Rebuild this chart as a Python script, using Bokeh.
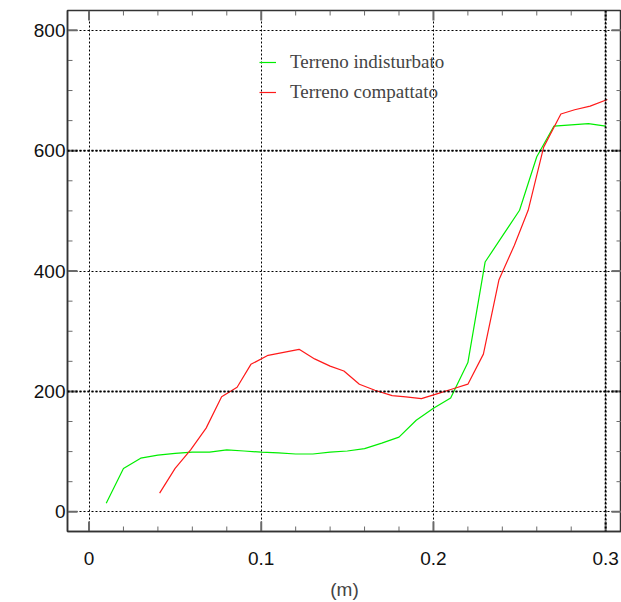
from bokeh.plotting import figure
from bokeh.models import (Range1d, LinearAxis, Legend, LegendItem, Label, Span, FixedTicker,
                          CustomJSTickFormatter)
from bokeh.embed import file_html
from bokeh.resources import INLINE

# Terreno indisturbato (green)
x_ind = [0.01, 0.02, 0.03, 0.04, 0.05, 0.06, 0.07, 0.08, 0.09, 0.10, 0.11, 0.12, 0.13, 0.14, 0.15,
         0.16, 0.17, 0.18, 0.19, 0.20, 0.21, 0.22, 0.23, 0.24, 0.25, 0.26, 0.27, 0.28, 0.29, 0.30]
y_ind = [14, 72, 89, 94, 97, 99, 99, 103, 101, 99, 98, 96, 96, 99, 101,
         105, 114, 124, 152, 172, 189, 248, 415, 458, 501, 590, 641, 643, 645, 641]

# Terreno compattato (red)
x_comp = [0.041, 0.050, 0.059, 0.068, 0.077, 0.086, 0.094, 0.104, 0.113, 0.122, 0.131, 0.140, 0.148,
          0.157, 0.166, 0.176, 0.184, 0.193, 0.202, 0.211, 0.220, 0.229, 0.238, 0.247, 0.255, 0.264,
          0.274, 0.282, 0.291, 0.301]
y_comp = [31, 72, 103, 139, 191, 207, 245, 260, 265, 270, 254, 242, 234,
          212, 202, 193, 191, 188, 196, 204, 212, 262, 385, 443, 501, 606,
          661, 668, 674, 685]

x_ticks = [0, 0.1, 0.2, 0.3]
y_ticks = [0, 200, 400, 600, 800]
x_minor = [round(i * 0.02, 2) for i in range(0, 16) if i % 5 != 0]
y_minor = [i * 50 for i in range(0, 17) if i % 4 != 0]

X_RANGE = (-0.01249, 0.3092)
Y_RANGE = (-32.8, 833)
FONT = "Liberation Sans"
W, H = 621, 602
BL, BR, BT, BB = 67, 0, 10, 70

p = figure(width=W, height=H, output_backend="svg", toolbar_location=None,
           x_range=Range1d(*X_RANGE), y_range=Range1d(*Y_RANGE),
           min_border_left=BL, min_border_right=BR, min_border_top=BT, min_border_bottom=BB)
p.outline_line_color = "#333333"
p.outline_line_width = 1.5
p.background_fill_color = None
p.border_fill_color = "white"

def style_axis(ax):
    ax.axis_line_color = "#333333"
    ax.axis_line_width = 1.5
    ax.major_tick_in = 0
    ax.major_tick_out = 0
    ax.minor_tick_in = 0
    ax.minor_tick_out = 0
    ax.major_label_text_font = FONT
    ax.major_label_text_font_size = "19px"
    ax.major_label_text_color = "#111111"

xt = FixedTicker(ticks=x_ticks)
yt = FixedTicker(ticks=y_ticks)

p.xaxis.ticker = xt
p.yaxis.ticker = yt
style_axis(p.xaxis[0])
style_axis(p.yaxis[0])
p.xaxis.major_label_standoff = 20
p.yaxis.major_label_standoff = 2
p.xaxis.major_label_overrides = {0: "0", 0.1: "0.1", 0.2: "0.2", 0.3: "0.3"}
p.xaxis.axis_label = "(m)"
p.xaxis.axis_label_text_font = FONT
p.xaxis.axis_label_text_font_style = "normal"
p.xaxis.axis_label_text_font_size = "19px"
p.xaxis.axis_label_standoff = 11

p.xgrid.ticker = xt
p.ygrid.ticker = yt
for g in (p.xgrid[0], p.ygrid[0]):
    g.grid_line_color = "black"
    g.grid_line_dash = "2 2"
    g.grid_line_width = 1

for v in (200, 600):
    p.add_layout(Span(location=v, dimension="width", line_color="black", line_dash="2 2", line_width=2))
p.add_layout(Span(location=0.3, dimension="height", line_color="black", line_dash="2 2", line_width=2))

# inward tick marks on all four sides (lengths in px converted to data units)
fw = W - BL - BR
fh = H - BT - BB
dx_per_px = (X_RANGE[1] - X_RANGE[0]) / fw
dy_per_px = (Y_RANGE[1] - Y_RANGE[0]) / fh
TICK_COLOR = "#6a6a6a"
for ticks, length, width in ((x_ticks, 10, 2), (x_minor, 5, 1)):
    ly = length * dy_per_px
    p.segment(x0=ticks, x1=ticks, y0=[Y_RANGE[0]] * len(ticks), y1=[Y_RANGE[0] + ly] * len(ticks),
              line_color=TICK_COLOR, line_width=width)
    p.segment(x0=ticks, x1=ticks, y0=[Y_RANGE[1]] * len(ticks), y1=[Y_RANGE[1] - ly] * len(ticks),
              line_color=TICK_COLOR, line_width=width)
for ticks, length, width in ((y_ticks, 10, 2), (y_minor, 5, 1)):
    lx = length * dx_per_px
    p.segment(y0=ticks, y1=ticks, x0=[X_RANGE[0]] * len(ticks), x1=[X_RANGE[0] + lx] * len(ticks),
              line_color=TICK_COLOR, line_width=width)
    p.segment(y0=ticks, y1=ticks, x0=[X_RANGE[1]] * len(ticks), x1=[X_RANGE[1] - lx] * len(ticks),
              line_color=TICK_COLOR, line_width=width)

r1 = p.line(x_ind, y_ind, line_color="#00ee00", line_width=1.2)
r2 = p.line(x_comp, y_comp, line_color="#ff1a1a", line_width=1.2)

legend = Legend(items=[LegendItem(label="Terreno indisturbato", renderers=[r1]),
                       LegendItem(label="Terreno compattato", renderers=[r2])],
                location=(192, 428), border_line_color=None, background_fill_alpha=0,
                label_text_font="Liberation Serif", label_text_font_size="19px",
                glyph_width=17, glyph_height=20, label_height=20, spacing=8,
                label_standoff=14, padding=0, margin=0)
p.add_layout(legend, "center")

p.add_layout(Label(x=-0.0382, y=482, text="(N)", text_font=FONT, text_font_size="19px",
                   text_align="center", text_baseline="middle", text_color="#111111"))

open("out.html", "w").write(file_html(p, INLINE))
